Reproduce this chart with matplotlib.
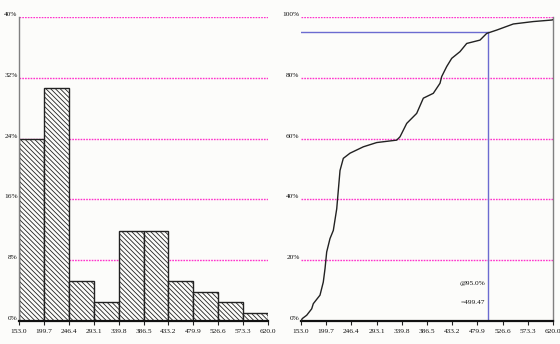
import matplotlib
matplotlib.use("Agg")
import matplotlib.pyplot as plt
from matplotlib.transforms import offset_copy

# ---------------- data ----------------
bin_edges = [153.0, 199.7, 246.4, 293.1, 339.8, 386.5, 433.2, 479.9, 526.6, 573.3, 620.0]
tick_labels = ["153.0", "199.7", "246.4", "293.1", "339.8", "386.5",
               "433.2", "479.9", "526.6", "573.3", "620.0"]
freq_pct = [23.9, 30.6, 5.3, 2.5, 11.8, 11.8, 5.3, 3.8, 2.5, 1.1]
left_yticks = [0, 8, 16, 24, 32, 40]
left_ylabels = ["0%", "8%", "16%", "24%", "32%", "40%"]

cum_x = [153.0, 155.4, 163.6, 172.8, 175.8, 188.2, 194.3, 197.5, 200.6, 206.7,
         212.9, 219.2, 225.3, 231.4, 243.8, 268.5, 293.3, 330.4, 336.5, 348.9,
         367.4, 379.7, 398.2, 410.6, 413.7, 423.0, 432.3, 447.6, 460.1, 484.7,
         497.1, 515.7, 546.4, 583.5, 617.6, 620.0]
cum_y = [0.0, 0.8, 1.9, 4.0, 5.7, 8.5, 12.8, 17.2, 22.7, 27.1,
         29.8, 36.9, 49.5, 53.5, 55.2, 57.3, 58.7, 59.5, 60.6, 65.0,
         68.3, 73.3, 74.9, 78.2, 80.4, 83.7, 86.4, 88.6, 91.3, 92.4,
         94.6, 95.7, 97.7, 98.5, 99.0, 99.1]
right_yticks = [0, 20, 40, 60, 80, 100]
right_ylabels = ["0%", "20%", "40%", "60%", "80%", "100%"]
pct_level = 95.0
pct_value = 499.47
annot_lines = ["@95.0%", "=499.47"]

# ---------------- style ----------------
BG = "#fcfcfa"
GRID = "#ff33cc"
BLUE = "#6b6bd0"
FONT = ["Liberation Sans Narrow", "Liberation Serif", "DejaVu Sans"]
FS = 5.3
plt.rcParams["hatch.linewidth"] = 0.6
plt.rcParams["hatch.color"] = "#666666"

fig = plt.figure(figsize=(5.6, 3.44), dpi=100, facecolor=BG)
axL = fig.add_axes([19/560, 1-321/344, (268-19)/560, (321-17)/344])
axR = fig.add_axes([301/560, 1-321/344, (553-301)/560, (321-17)/344])

def style_axis(ax, yticks, ylabels, ymax):
    ax.set_facecolor(BG)
    ax.set_xlim(bin_edges[0], bin_edges[-1])
    ax.set_ylim(0, ymax)
    ax.set_xticks(bin_edges)
    ax.set_xticklabels(tick_labels, fontsize=FS, family=FONT, color="#111111")
    ax.tick_params(axis="x", length=3, width=0.8, pad=3, color="#222222")
    ax.set_yticks(yticks)
    ax.set_yticklabels(ylabels, fontsize=FS, family=FONT, color="#111111")
    ax.tick_params(axis="y", length=0, pad=1)
    for lab in ax.get_yticklabels():
        lab.set_verticalalignment("bottom")
    ax.spines["top"].set_visible(False)
    ax.spines["bottom"].set_color("#111111")
    ax.spines["bottom"].set_linewidth(1.6)
    for t in yticks[1:]:
        ax.axhline(t, color=GRID, lw=1.0, ls=(0, (1.2, 0.8)), zorder=0.5)

# ---- left: histogram ----
style_axis(axL, left_yticks, left_ylabels, 40)
axL.spines["right"].set_visible(False)
axL.spines["left"].set_color("#808080")
axL.spines["left"].set_linewidth(1.0)
widths = [bin_edges[i+1] - bin_edges[i] for i in range(len(freq_pct))]
axL.bar(bin_edges[:-1], freq_pct, width=widths, align="edge",
        facecolor=BG, edgecolor="#222222", linewidth=1.0,
        hatch="\\" * 7, zorder=2)

# ---- right: cumulative ----
style_axis(axR, right_yticks, right_ylabels, 100)
axR.spines["left"].set_visible(False)
axR.spines["right"].set_color("#808080")
axR.spines["right"].set_linewidth(1.0)
axR.plot(cum_x, cum_y, color="#222222", lw=1.0, zorder=3)
axR.plot([bin_edges[0], pct_value], [pct_level, pct_level], color=BLUE, lw=1.0, zorder=2)
axR.plot([pct_value, pct_value], [0, pct_level], color=BLUE, lw=1.0, zorder=2)
axR.text(pct_value, 12.5, annot_lines[0], ha="right", va="center",
         fontsize=FS, family=FONT, color="#111111",
         transform=offset_copy(axR.transData, fig=fig, x=-3, y=0, units="dots"))
axR.text(pct_value, 6.2, annot_lines[1], ha="right", va="center",
         fontsize=FS, family=FONT, color="#111111",
         transform=offset_copy(axR.transData, fig=fig, x=-3, y=0, units="dots"))

fig.savefig("out.png", dpi=100, facecolor=BG)
